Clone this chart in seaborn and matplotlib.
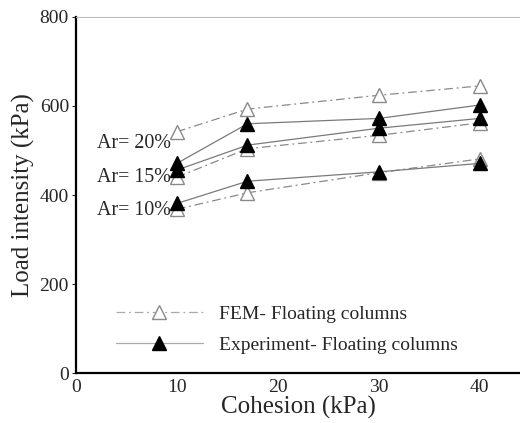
import matplotlib
matplotlib.use("Agg")
import matplotlib.pyplot as plt
import seaborn as sns
import pandas as pd
from matplotlib.lines import Line2D

cohesion = [10, 17, 30, 40]
fem_10 = [368, 405, 450, 481]
fem_15 = [440, 504, 534, 562]
fem_20 = [542, 593, 624, 645]
exp_10 = [381, 431, 452, 471]
exp_15 = [456, 512, 550, 572]
exp_20 = [471, 560, 572, 602]
ar_labels = ["Ar= 20%", "Ar= 15%", "Ar= 10%"]
ar_label_y = [515, 439, 365]
x_ticks = [0, 10, 20, 30, 40]
y_ticks = [0, 200, 400, 600, 800]

sns.set_style("ticks")
plt.rcParams['font.family'] = ['Liberation Serif', 'DejaVu Serif']

fig = plt.figure(figsize=(5.2, 4.23), dpi=100)
ax = fig.add_axes([0.146, 0.118, 0.854, 0.842])

fem_style = dict(color="#8a8a8a", linestyle=(0, (7, 3, 1.5, 3)), linewidth=0.9,
                 marker="^", markersize=9.5, markerfacecolor="white",
                 markeredgecolor="#8a8a8a", markeredgewidth=1.0)
exp_style = dict(color="#7a7a7a", linestyle="-", linewidth=0.9,
                 marker="^", markersize=9.5, markerfacecolor="black",
                 markeredgecolor="black", markeredgewidth=1.0)

for ys in (fem_10, fem_15, fem_20):
    df = pd.DataFrame({"c": cohesion, "v": ys})
    sns.lineplot(data=df, x="c", y="v", ax=ax, legend=False, **fem_style)
for ys in (exp_10, exp_15, exp_20):
    df = pd.DataFrame({"c": cohesion, "v": ys})
    sns.lineplot(data=df, x="c", y="v", ax=ax, legend=False, **exp_style)

for lab, yy in zip(ar_labels, ar_label_y):
    ax.text(2.1, yy, lab, fontsize=14.4, va="center", ha="left")

ax.set_xlim(0, 44)
ax.set_ylim(0, 800)
ax.set_xticks(x_ticks)
ax.set_yticks(y_ticks)
ax.tick_params(axis="both", labelsize=14, length=3, width=0.8, direction="out")
ax.tick_params(axis="x", length=0, pad=4)
ax.tick_params(axis="y", pad=2)
ax.set_xlabel("Cohesion (kPa)", fontsize=18, labelpad=0)
ax.set_ylabel("Load intensity (kPa)", fontsize=18, labelpad=3)

for s in ("left", "bottom"):
    ax.spines[s].set_linewidth(1.6)
    ax.spines[s].set_color("black")
ax.spines["top"].set_visible(True)
ax.spines["top"].set_color("#bbbbbb")
ax.spines["top"].set_linewidth(0.8)
ax.spines["right"].set_visible(False)

handles = [Line2D([], [], **fem_style), Line2D([], [], **exp_style)]
handles[0].set_color("#aaaaaa")
handles[1].set_color("#aaaaaa")
ax.legend(handles, ["FEM- Floating columns", "Experiment- Floating columns"],
          loc="lower left", bbox_to_anchor=(0.05, 0.005), frameon=False,
          fontsize=14, handlelength=4.5, labelspacing=0.7, handletextpad=0.8)

fig.savefig("out.png", dpi=100)
